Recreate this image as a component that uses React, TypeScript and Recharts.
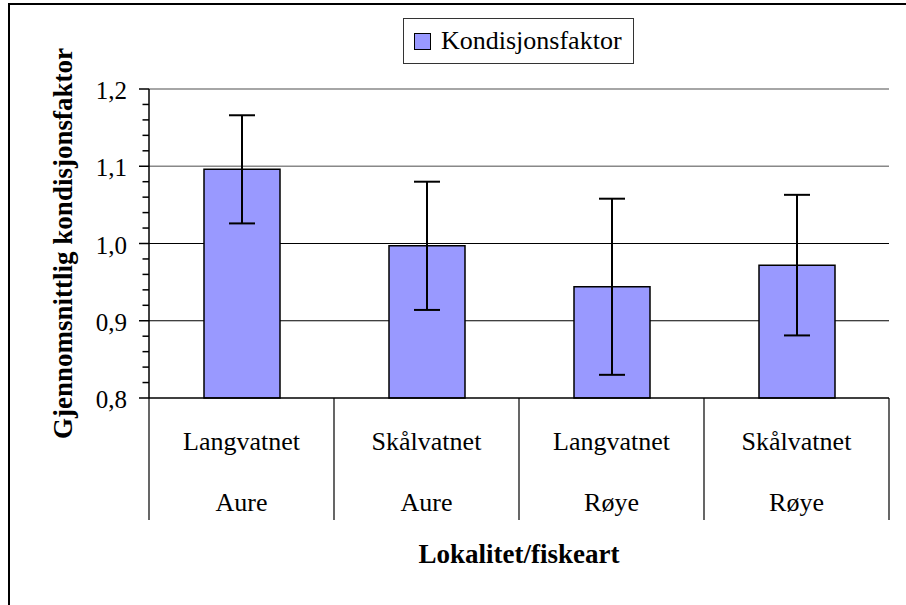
import React from "react";
import {
  BarChart,
  Bar,
  ErrorBar,
  CartesianGrid,
  XAxis,
  YAxis,
  Legend,
} from "recharts";

const lakes = ["Langvatnet", "Skålvatnet", "Langvatnet", "Skålvatnet"];
const species = ["Aure", "Aure", "Røye", "Røye"];
const meanK = [1.096, 0.997, 0.944, 0.972];
const sdK = [0.07, 0.083, 0.114, 0.091];
const yTicks = [
  0.8, 0.82, 0.84, 0.86, 0.88, 0.9, 0.92, 0.94, 0.96, 0.98, 1.0, 1.02, 1.04,
  1.06, 1.08, 1.1, 1.12, 1.14, 1.16, 1.18, 1.2,
];

const data = lakes.map((lake, i) => ({
  key: lake + " " + species[i],
  lake,
  fish: species[i],
  k: meanK[i],
  sd: sdK[i],
}));

const FONT = '"Liberation Serif", "Times New Roman", serif';
const W = 906;
const H = 605;
const M = { top: 89, right: 17, bottom: 17, left: 10 };
const Y_W = 139;
const X_H = 190;
const band = (W - M.left - M.right - Y_W) / data.length;

function YTick(props: any) {
  const { x, y, payload } = props;
  const v = payload.value as number;
  const major = Math.abs(v * 10 - Math.round(v * 10)) < 1e-6;
  return (
    <g>
      <line
        x1={x - (major ? 10 : 6.5)}
        x2={x}
        y1={y}
        y2={y}
        stroke="#000"
        strokeWidth={1.5}
      />
      {major && (
        <text
          x={x - 22}
          y={y}
          dy={10}
          textAnchor="end"
          fontSize={25}
          fontFamily={FONT}
          fill="#000"
        >
          {v.toFixed(1).replace(".", ",")}
        </text>
      )}
    </g>
  );
}

function XTick(props: any) {
  const { x, y, index } = props;
  const row = data[index];
  const last = index === data.length - 1;
  return (
    <g>
      <line x1={x - band / 2} x2={x - band / 2} y1={y} y2={y + 122} stroke="#000" strokeWidth={1.2} />
      {last && (
        <line x1={x + band / 2} x2={x + band / 2} y1={y} y2={y + 122} stroke="#000" strokeWidth={1.2} />
      )}
      <text x={x} y={y + 52} textAnchor="middle" fontSize={26} fontFamily={FONT} fill="#000">
        {row ? row.lake : ""}
      </text>
      <text x={x} y={y + 113} textAnchor="middle" fontSize={26} fontFamily={FONT} fill="#000">
        {row ? row.fish : ""}
      </text>
    </g>
  );
}

function LegendBox(props: any) {
  const item = (props.payload || [])[0];
  return (
    <div
      style={{
        width: 229,
        height: 44,
        border: "1px solid #333",
        background: "#fff",
        display: "flex",
        alignItems: "center",
        fontFamily: FONT,
        fontSize: 26,
        color: "#000",
        boxSizing: "content-box",
      }}
    >
      <span
        style={{
          display: "inline-block",
          width: 15,
          height: 15,
          marginLeft: 10,
          marginRight: 10,
          background: "#9999ff",
          border: "1.5px solid #000",
        }}
      />
      <span>{item ? item.value : ""}</span>
    </div>
  );
}

export default function App() {
  return (
    <div
      style={{
        position: "absolute",
        left: 0,
        top: 0,
        width: W,
        height: H,
        overflow: "hidden",
        background: "#fff",
        fontFamily: FONT,
      }}
    >
      <div
        style={{
          position: "absolute",
          left: 8,
          top: 3,
          width: 1000,
          height: 1000,
          borderLeft: "2px solid #000",
          borderTop: "2px solid #000",
        }}
      />
      <div style={{ position: "absolute", left: 0, top: 0 }}>
        <BarChart width={W} height={H} data={data} margin={M}>
          <CartesianGrid horizontal vertical={false} horizontalValues={[1.1, 1.2]} stroke="#888" strokeWidth={1.5} />
          <CartesianGrid horizontal vertical={false} horizontalValues={[0.9, 1.0]} stroke="#000" strokeWidth={1} />
          <XAxis
            dataKey="key"
            height={X_H}
            tickLine={false}
            tickSize={0}
            tickMargin={0}
            interval={0}
            axisLine={{ stroke: "#000", strokeWidth: 1.5 }}
            tick={<XTick />}
            label={{
              value: "Lokalitet/fiskeart",
              position: "insideBottom",
              offset: 25,
              style: { fontFamily: FONT, fontSize: 27, fontWeight: "bold", fill: "#000" },
            }}
          />
          <YAxis
            width={Y_W}
            domain={[0.8, 1.2]}
            ticks={yTicks}
            interval={0}
            tickLine={false}
            tickSize={0}
            tickMargin={0}
            axisLine={{ stroke: "#000", strokeWidth: 1.5 }}
            tick={<YTick />}
            label={{
              value: "Gjennomsnittlig kondisjonsfaktor",
              angle: -90,
              position: "insideLeft",
              offset: 52,
              style: {
                textAnchor: "middle",
                fontFamily: FONT,
                fontSize: 27,
                fontWeight: "bold",
                fill: "#000",
              },
            }}
          />
          <Legend
            layout="horizontal"
            verticalAlign="middle"
            align="center"
            content={<LegendBox />}
            wrapperStyle={{ position: "absolute", top: 18, left: 403, width: 231, height: 46 }}
          />
          <Bar
            dataKey="k"
            name="Kondisjonsfaktor"
            fill="#9999ff"
            stroke="#000"
            strokeWidth={1.5}
            barSize={76}
            isAnimationActive={false}
          >
            <ErrorBar
              dataKey="sd"
              direction="y"
              width={13}
              stroke="#000"
              strokeWidth={2}
              isAnimationActive={false}
            />
          </Bar>
        </BarChart>
      </div>
    </div>
  );
}
